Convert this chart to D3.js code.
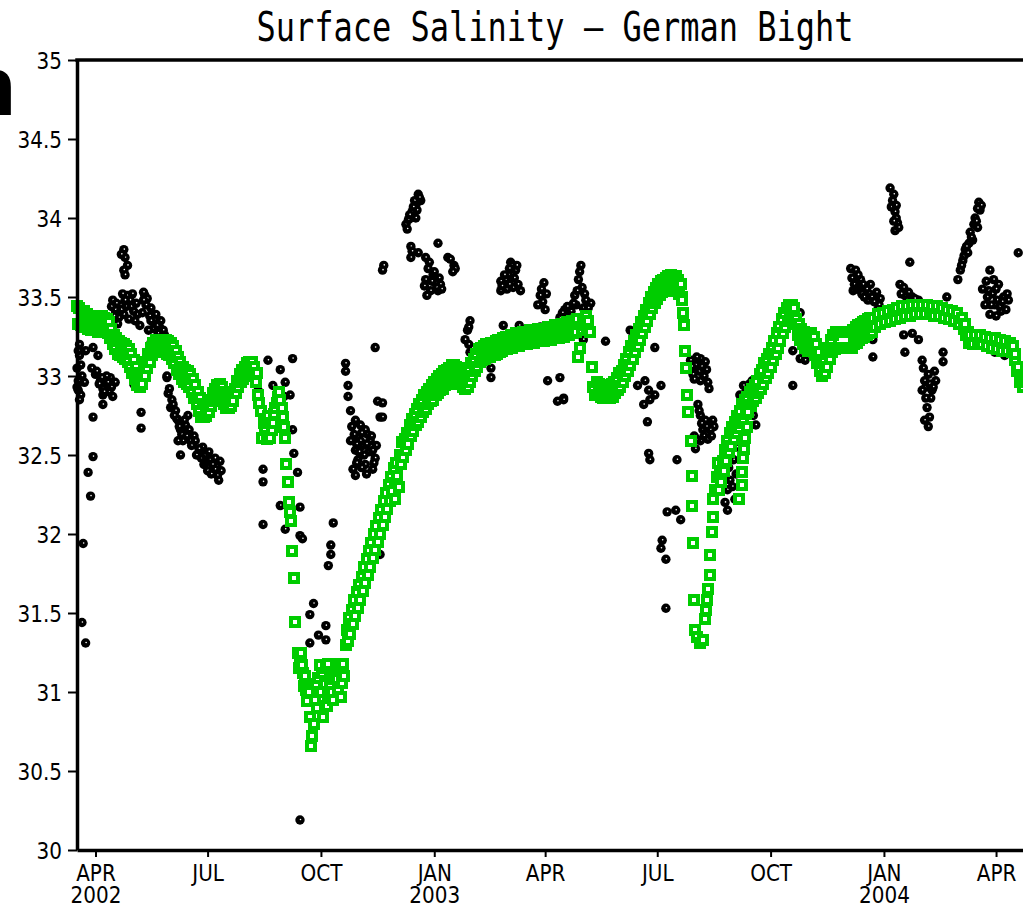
<!DOCTYPE html>
<html>
<head>
<meta charset="utf-8">
<script src="https://cdn.jsdelivr.net/npm/d3@7"></script>
<style>
  html, body { margin: 0; padding: 0; background: #fff; overflow: hidden; }
  svg { display: block; }
</style>
</head>
<body>
<svg id="chart" width="1023" height="908"></svg>
<script>
// ---- data ---------------------------------------------------------------
const chartTitle = "Surface Salinity \u2014 German Bight";
const startDate = new Date(2002, 2, 17);
const endDate = new Date(2004, 4, 1);
const baseDate = new Date(2002, 3, 1);          // day 0 of the series below
const yTicks = [30, 30.5, 31, 31.5, 32, 32.5, 33, 33.5, 34, 34.5, 35];
const monthNames = ["JAN", "FEB", "MAR", "APR", "MAY", "JUN", "JUL", "AUG", "SEP", "OCT", "NOV", "DEC"];

// model surface salinity: [days since 1 Apr 2002, psu]
const modelSalinity = [
  // spring / early summer 2002
  [-15,33.44],[-14,33.33],[-13,33.43],[-12,33.32],[-11,33.40],[-10,33.31],[-9,33.41],[-8,33.32],[-7,33.39],[-6,33.30],
  [-5,33.38],[-4,33.29],[-3,33.38],[-2,33.29],[-1,33.37],[0,33.29],[1,33.37],[2,33.28],[3,33.37],[4,33.29],
  [5,33.38],[6,33.28],[7,33.37],[8,33.29],[9,33.36],[10,33.27],[11,33.34],[12,33.24],[13,33.30],[14,33.20],
  [15,33.26],[16,33.17],[17,33.24],[18,33.14],[19,33.22],[20,33.13],[21,33.21],[22,33.12],[23,33.20],[24,33.11],
  [25,33.19],[26,33.09],[27,33.17],[28,33.06],[29,33.14],[30,33.02],[31,33.10],[32,32.98],[33,33.06],[34,32.94],
  [35,33.02],[36,32.93],[37,33.01],[38,32.95],[39,33.04],[40,33.00],[41,33.09],[42,33.05],[43,33.14],[44,33.09],
  [45,33.18],[46,33.13],[47,33.21],[48,33.15],[49,33.23],[50,33.15],[51,33.23],[52,33.15],[53,33.23],[54,33.15],
  [55,33.23],[56,33.15],[57,33.23],[58,33.14],[59,33.22],[60,33.13],[61,33.21],[62,33.11],[63,33.19],[64,33.08],
  [65,33.16],[66,33.04],[67,33.12],[68,33.01],[69,33.09],[70,32.98],[71,33.06],[72,32.96],[73,33.04],[74,32.95],
  [75,33.03],[76,32.93],[77,33.01],[78,32.90],[79,32.98],[80,32.86],[81,32.94],[82,32.82],[83,32.90],[84,32.78],
  [85,32.86],[86,32.74],[87,32.82],[88,32.74],[89,32.82],[90,32.75],[91,32.83],[92,32.77],[93,32.85],[94,32.81],
  [95,32.89],[96,32.84],[97,32.92],[98,32.86],[99,32.94],[100,32.87],[101,32.95],[102,32.85],[103,32.93],[104,32.82],
  [105,32.90],[106,32.80],[107,32.88],[108,32.80],[109,32.88],[110,32.81],[111,32.89],[112,32.84],[113,32.92],[114,32.89],
  [115,32.97],[116,32.93],[117,33.01],[118,32.96],[119,33.04],[120,32.98],[121,33.06],[122,33.00],[123,33.08],[124,33.01],
  [125,33.09],[126,33.01],[127,33.09],[128,33.00],[129,33.06],
  // late-summer freshening and autumn minimum
  [130,32.96],[131,33.02],[132,32.88],[133,32.83],[134,32.78],[135.5,32.61],[136.5,32.70],[138,32.67],[139,32.60],[140,32.75],
  [141,32.70],[142,32.61],[143,32.66],[144,32.70],[145,32.76],[146,32.80],[147,32.83],[148,32.87],[149,32.90],[150,32.85],
  [151,32.80],[152,32.74],[153,32.68],[154,32.61],[155,32.44],[156,32.33],[157,32.20],[158,32.14],[158.5,32.08],[159.5,31.89],
  [161,31.72],[162,31.44],[164,31.25],[165,31.15],[166,31.20],[167,31.25],[168,31.17],[168.8,31.12],[169.5,31.04],[170,31.10],
  [171,31.01],[172,30.94],[173,31.00],[174.5,30.84],[175,30.66],[176,30.72],[177,30.80],[178.5,30.95],[179,31.05],[180,30.90],
  [181,31.09],[182.6,31.17],[183,31.00],[184,31.12],[185,30.84],[186,31.05],[187,31.15],[188,30.91],[188.5,31.18],[189,30.98],
  [190.7,31.03],[191,31.12],[192,31.00],[193,30.95],[194,31.10],[195,31.18],[196.4,31.08],[197,31.02],[198,31.15],[199,30.97],
  [200.5,31.06],[201,31.18],[202,31.10],[203,31.30],[204.5,31.39],
  // winter recovery
  [205,31.32],[206,31.47],[207,31.37],[208,31.52],[209,31.43],[210,31.58],[211,31.48],[212,31.63],[213,31.53],[214,31.68],
  [215,31.58],[216,31.73],[217,31.64],[218,31.79],[219,31.69],[220,31.84],[221,31.74],[222,31.89],[223,31.79],[224,31.94],
  [225,31.85],[226,32.00],[227,31.90],[228,32.05],[229,31.95],[230,32.10],[231,32.00],[232,32.15],[233,32.06],[234,32.21],
  [235,32.11],[236,32.26],[237,32.16],[238,32.31],[239,32.21],[240,32.36],[241,32.27],[242,32.42],[243,32.32],[243.5,32.22],
  [244,32.45],[245,32.37],[246,32.30],[247,32.50],[248,32.44],[249,32.58],[250,32.49],
  [251,32.60],[252,32.53],[253,32.64],[254,32.57],[255,32.69],[256,32.62],[257,32.73],[258,32.65],[259,32.76],[260,32.69],
  [261,32.79],[262,32.71],[263,32.82],[264,32.74],[265,32.85],[266,32.77],[267,32.88],[268,32.79],[269,32.90],[270,32.82],
  [271,32.92],[272,32.84],[273,32.94],[274,32.85],[275,32.96],[276,32.88],[277,32.98],[278,32.89],[279,33.00],[280,32.91],
  [281,33.01],[282,32.92],[283,33.03],[284,32.94],[285,33.04],[286,32.95],[287,33.05],[288,32.96],[289,33.07],[290,32.98],
  [291,33.07],[292,32.98],[293,33.06],[294,32.97],[295,33.05],[296,32.95],[297,33.03],[298,32.93],[299,33.02],[300,32.92],
  [301,33.02],[302,32.93],[303,33.04],[304,32.96],[305,33.08],[306,33.00],[307,33.11],[308,33.03],[309,33.14],[310,33.06],
  [311,33.17],[312,33.09],[313,33.18],[314,33.10],[315,33.19],[316,33.11],[317,33.20],[318,33.12],[319,33.20],[320,33.12],
  [321,33.21],[322,33.13],[323,33.21],[324,33.13],[325,33.22],[326,33.14],[327,33.23],[328,33.15],[329,33.23],[330,33.16],
  // spring 2003 plateau
  [331,33.24],[332,33.17],[333,33.25],[334,33.17],[335,33.25],[336,33.18],[337,33.26],[338,33.18],[339,33.26],[340,33.19],
  [341,33.27],[342,33.19],[343,33.27],[344,33.19],[345,33.27],[346,33.20],[347,33.28],[348,33.20],[349,33.28],[350,33.20],
  [351,33.28],[352,33.21],[353,33.29],[354,33.21],[355,33.29],[356,33.21],[357,33.29],[358,33.22],[359,33.30],[360,33.22],
  [361,33.30],[362,33.22],[363,33.30],[364,33.22],[365,33.30],[366,33.23],[367,33.31],[368,33.23],[369,33.31],[370,33.23],
  [371,33.31],[372,33.24],[373,33.32],[374,33.24],[375,33.32],[376,33.24],[377,33.32],[378,33.25],[379,33.33],[380,33.25],
  [381,33.33],[382,33.26],[383,33.34],[384,33.26],[385,33.34],[386,33.27],[387,33.35],[388,33.27],[389,33.35],[390,33.28],
  [391,33.36],[392,33.12],[393.6,33.18],[395,33.29],[396,33.36],[397,33.32],[398,33.38],[399,33.30],[400,33.35],[401.7,33.28],
  [403,33.06],[404.2,32.93],[405.8,32.88],
  // summer 2003
  [407,32.96],[408,32.88],[409,32.95],[410,32.87],[411,32.94],[412,32.86],[413,32.94],[414,32.86],[415,32.94],[416,32.86],
  [417,32.94],[418,32.86],[419,32.95],[420,32.87],[421,32.96],[422,32.89],[423,32.99],[424,32.91],[425,33.02],
  [426,32.93],[427,33.03],[428,32.96],[429,33.07],[430,33.00],[431,33.11],[432,33.03],[433,33.15],[434,33.07],[435,33.19],
  [436,33.11],[437,33.22],[438,33.15],[439,33.26],[440,33.19],[441,33.30],[442,33.23],[443,33.34],[444,33.27],[445,33.38],
  [446,33.31],[447,33.42],[448,33.35],[449,33.46],[450,33.39],[451,33.50],[452,33.43],[453,33.53],[454,33.46],[455,33.56],
  [456,33.49],[457,33.58],[458,33.51],[459,33.60],[460,33.53],[461,33.61],[462,33.54],[463,33.62],[464,33.55],[465,33.63],
  [466,33.56],[467,33.64],[468,33.56],[469,33.63],[470,33.55],[471,33.63],[472,33.54],[473,33.61],[474,33.52],[475,33.58],
  [476,33.50],[476.4,33.48],[477.2,33.40],[477.5,33.32],[478.8,33.16],[479.3,33.05],[480.5,32.88],[481,32.77],[483,32.59],[483.8,32.37],
  [484.6,32.18],[485.2,31.94],[485.5,31.58],[487,31.39],[488.6,31.35],[491,31.31],[493.4,31.33],[495,31.46],[495.5,31.52],[496.7,31.58],
  [497,31.65],[499,31.74],[499.1,31.87],[500.8,32.01],[501,32.11],[501.5,32.22],[503,32.28],[504.8,32.36],[505,32.45],
  // autumn 2003 recovery
  [506,32.28],[507,32.38],[508,32.33],[509,32.46],[510,32.40],[511,32.53],[512,32.46],[513,32.59],[514,32.52],[515,32.64],
  [516,32.56],[517,32.68],[518,32.60],[519,32.71],[520,32.64],[521,32.75],[522,32.67],[523,32.78],[524,32.70],[525,32.82],
  [526,32.73],[527,32.85],[528,32.76],[529,32.87],[530,32.79],[531,32.90],[532,32.81],[533,32.92],[534,32.84],[535,32.94],
  [536,32.86],[537,32.97],[538,32.89],[539,33.01],[540,32.92],[541,33.04],[542,32.95],[543,33.08],[544,32.99],[545,33.11],
  [546,33.02],[547,33.14],[548,33.06],[549,33.18],[550,33.10],[551,33.22],[552,33.14],[553,33.27],[554,33.18],[555,33.31],
  [556,33.22],[557,33.36],[558,33.27],[559,33.40],[560,33.31],[561,33.43],[562,33.35],[563,33.45],[564,33.37],[565,33.45],
  [566,33.37],[567,33.43],[568,33.33],
  [522.7,32.22],[525,32.31],[525.1,32.39],[526,32.48],[526.2,32.54],[527.5,32.61],[529.2,32.68],[530,32.77],
  // winter 2003/04
  [569,33.36],[570,33.26],[571,33.33],[572,33.23],[573,33.30],[574,33.20],[575,33.28],[576,33.18],[577,33.26],[578,33.16],
  [579,33.26],[580,33.17],[581,33.27],[582,33.17],[583,33.25],[584,33.13],[585,33.20],[586,33.08],[587,33.15],[588,33.03],
  [589,33.10],[590,33.00],[591,33.10],[592,33.02],[593,33.14],[594,33.06],[595,33.18],[596,33.11],[597,33.23],[598,33.15],
  [599,33.26],[600,33.17],[601,33.28],[602,33.18],[603,33.28],[604,33.18],[605,33.28],[606,33.18],[607,33.28],[608,33.18],
  [609,33.28],[610,33.18],[611,33.28],[612,33.18],[613,33.28],[614,33.18],[615,33.29],[616,33.20],[617,33.31],[618,33.21],
  [619,33.32],[620,33.23],[621,33.33],[622,33.24],[623,33.34],[624,33.25],[625,33.35],[626,33.26],[627,33.36],[628,33.27],
  [629,33.37],[630,33.28],
  [631,33.37],[633,33.31],[635,33.39],[637,33.33],[639,33.40],[641,33.34],[643,33.41],[645,33.35],[647,33.42],[649,33.36],
  [651,33.43],[653,33.37],[655,33.44],[657,33.38],[659,33.44],[661,33.38],[663,33.45],[665,33.39],[667,33.45],[669,33.39],
  [671,33.45],[673,33.39],[675,33.45],[677,33.39],[679,33.44],[681,33.38],[683,33.44],[685,33.38],[687,33.43],[689,33.37],
  [691,33.42],[693,33.36],[695,33.41],[697,33.35],[699,33.40],[701,33.33],[703,33.37],[705,33.30],[706,33.33],[707,33.26],
  [708,33.28],[709,33.21],[710,33.26],[712,33.20],[714,33.26],[716,33.20],[718,33.26],[720,33.20],[722,33.25],[724,33.19],
  [726,33.24],[728,33.18],[730,33.24],[732,33.17],[734,33.23],[736,33.16],[738,33.22],[740,33.16],[742,33.21],[744,33.15],
  [745,33.19],[746,33.10],[746.7,33.14],[748,33.03],[749.1,33.06],[750.7,32.96],[752,32.99],[753.2,32.93],[755,32.96]
];

// observed surface salinity: [days since 1 Apr 2002, psu]
const observedSalinity = [
  // spring 2002
  [-13,33.20],[-12,33.07],[-14,32.97],[-12,32.88],[-13,32.85],[-13,33.13],[-14,32.91],[-15,33.05],[-15,32.93],[-14,33.16],
  [-11,33.00],[-9,32.96],
  [-10,31.94],[-11,31.44],[-8,31.31],[-2,32.49],[-6,32.39],[-4,32.24],
  [-2,33.18],[2,33.13],[-8,33.16],[0,33.01],[4,32.97],[8,32.94],[11,32.90],[6,32.88],[12,32.99],[6,32.92],[9,33.00],
  [-3,33.05],[1,33.03],[3,32.95],[5,32.99],[7,32.90],[10,32.96],[13,32.93],[14,32.87],[16,32.96],
  [6,32.82],[-2,32.74],
  [23,33.80],[24,33.75],[26,33.70],[23,33.67],[24,33.64],[21,33.77],
  [26,33.51],[20,33.45],[16,33.42],[28,33.48],[31,33.41],[19,33.37],[23,33.39],[24,33.48],[14,33.48],[32,33.35],
  [13,33.44],[15,33.38],[17,33.46],[18,33.33],[21,33.42],[22,33.52],[25,33.44],[27,33.36],[29,33.44],[30,33.52],
  [33,33.46],[34,33.39],[36,33.32],[38,33.40],[40,33.51],[44,33.38],[47,33.30],[48,33.36],[51,33.27],[52,33.31],
  [56,33.26],[57,33.22],
  [39,33.53],[42,33.49],[41,33.45],[45,33.43],[39,33.48],
  [45,33.35],[50,33.32],[55,33.29],[43,33.29],[54,33.25],[49,33.39],[53,33.35],[45,33.21],
  [37,32.77],[37,32.67],[31,32.95],[58,32.99],[59,32.89],[58,33.00],[60,32.92],
  // early summer 2002
  [62,32.85],[65,32.78],[67,32.72],[69,32.66],[73,32.69],[71,32.59],[77,32.59],[75,32.75],[61,32.80],[66,32.73],
  [67,32.59],[69,32.50],
  [63,32.82],[64,32.75],[68,32.68],[70,32.63],[72,32.72],[74,32.62],[76,32.66],[78,32.56],[80,32.62],[82,32.50],
  [86,32.48],[87,32.55],[88,32.44],[90,32.46],[91,32.40],[94,32.38],[96,32.45],[98,32.43],[99,32.37],[102,32.40],
  [85,32.53],[89,32.50],[93,32.47],[97,32.48],[97,32.41],[100,32.34],[95,32.44],[101,32.46],[81,32.59],[84,32.54],[92,32.52],
  // late summer / autumn 2002
  [140,33.10],[150,33.04],[144,32.94],[154,32.96],[158,32.88],[153,32.87],[160,33.11],[132,32.91],
  [160,32.66],[161,32.51],[164,32.39],[136,32.41],[136,32.33],
  [150,32.18],[158,32.16],[166,32.17],[154,32.03],[166,31.99],[168,31.97],[136,32.06],
  [177,31.56],[174,31.49],[187,31.42],[181,31.36],[174,31.31],[187,31.33],[166,30.19],
  [193,32.07],[191,31.93],[191,31.87],[189,31.80],
  [203,33.08],[203,33.03],[205,32.94],[205,32.87],[207,32.78],[227,33.18],[229,32.84],[231,32.74],
  [211,32.72],[215,32.69],[219,32.66],[213,32.61],[223,32.59],[217,32.56],[211,32.53],[222,32.52],[227,32.48],
  [213,32.47],[219,32.44],[225,32.41],[209,32.41],[211,32.37],[215,32.59],[221,32.63],[207,32.59],[225,32.53],
  [208,32.68],[210,32.63],[212,32.57],[214,32.52],[216,32.64],[218,32.50],[220,32.57],[224,32.62],[226,32.45],[228,32.56],
  [212,32.45],[216,32.42],[220,32.38],
  [231,31.87],[234,33.70],[233,33.67],
  // winter 2002/03
  [262,34.15],[260,34.08],[257,34.04],[256,34.00],[252,33.96],[254,33.99],[264,34.11],[261,34.05],[259,34.11],
  [253,33.93],[255,34.02],[258,34.07],[263,34.13],[260,34.00],
  [256,33.82],[256,33.75],[268,33.75],[278,33.84],[286,33.75],[291,33.70],[292,33.68],[257,33.79],[262,33.78],
  [270,33.68],[274,33.64],[276,33.59],[272,33.54],[269,33.51],[280,33.58],[278,33.54],[268,33.61],
  [271,33.72],[273,33.60],[275,33.66],[277,33.56],[279,33.62],[281,33.55],[267,33.57],[288,33.74],[290,33.66],
  [304,33.35],[302,33.29],[300,33.23],[303,33.20],[304,33.15],[303,33.31],
  [233,32.83],[233,32.74],[321,33.05],[321,32.99],
  // spring 2003
  [331,33.32],[344,33.32],[361,33.31],
  [337,33.72],[341,33.67],[333,33.61],[329,33.54],[339,33.56],[345,33.54],[335,33.64],[338,33.70],[329,33.60],
  [330,33.57],[332,33.64],[334,33.55],[336,33.68],[340,33.62],[342,33.70],[343,33.58],[336,33.58],
  [364,33.59],[361,33.51],[359,33.45],[365,33.42],[362,33.55],[363,33.47],[366,33.52],
  [394,33.70],[392,33.61],[395,33.56],[390,33.45],[386,33.41],[398,33.48],[402,33.46],[381,33.42],[388,33.46],[394,33.37],
  [396,33.23],[377,33.37],
  [379,33.40],[383,33.44],[385,33.38],[389,33.51],[391,33.54],[393,33.66],[396,33.43],[397,33.52],[400,33.43],[399,33.39],
  [367,32.97],[377,32.99],[380,32.86],[375,32.84],[380,32.85],
  // summer 2003
  [414,33.22],[434,33.29],[454,33.18],
  [440,32.94],[449,32.91],[454,32.88],[446,32.97],[459,32.94],[450,32.85],
  [445,32.82],[448,32.71],[449,32.51],[450,32.47],[472,32.47],
  [483,33.10],[491,33.11],[495,33.09],[485,33.01],[491,32.97],[497,32.96],[487,33.07],
  [484,33.06],[486,32.98],[488,33.12],[490,33.03],[492,33.06],[494,33.00],[496,33.04],[498,32.92],
  [489,32.82],[491,32.75],[495,32.72],[499,32.69],[493,32.66],[502,32.68],[491,32.59],[487,32.54],[499,32.66],
  [490,32.78],[492,32.70],[494,32.62],[496,32.68],[497,32.60],[500,32.62],[501,32.72],[488,32.60],[486,32.62],
  [464,32.14],[471,32.15],[475,32.09],[460,31.96],[459,31.91],[463,31.84],[463,31.53],
  // autumn 2003
  [513,32.28],[513,32.15],[513,32.49],[515,32.56],[518,32.47],[515,32.34],[519,32.22],
  [510,32.40],[511,32.20],[514,32.42],[517,32.30],[520,32.38],[521,32.55],[524,32.60],[528,32.90],[531,32.95],[534,32.75],
  [526,32.94],[523,32.88],[536,32.69],[537,32.90],[533,32.97],
  [572,33.40],[566,33.16],[572,33.11],[576,33.10],[566,32.94],
  // winter 2003/04
  [613,33.68],[617,33.61],[615,33.54],
  [645,34.19],[647,34.11],[649,34.04],[651,33.97],[649,33.92],[648,34.15],[661,33.72],
  [646,34.07],[650,34.00],[652,33.94],[650,34.08],[648,33.98],
  [617,33.67],[621,33.61],[625,33.54],[629,33.58],[633,33.51],[637,33.49],[619,33.64],[627,33.48],
  [614,33.62],[616,33.58],[618,33.55],[620,33.57],[622,33.52],[623,33.58],[624,33.50],[626,33.55],[628,33.52],[630,33.50],
  [632,33.47],[634,33.53],[636,33.45],
  [653,33.58],[657,33.51],[663,33.50],[668,33.48],[691,33.50],[635,33.42],
  [654,33.52],[656,33.56],[659,33.48],[660,33.53],[662,33.47],[665,33.49],[666,33.45],
  [631,33.23],[631,33.12],[656,33.26],[663,33.27],[668,33.23],[657,33.15],[671,33.10],[688,33.15],[688,33.09],
  [676,33.01],[674,32.93],[682,32.97],[679,32.91],[671,32.91],[675,32.80],[676,32.68],
  [672,33.05],[673,32.97],[677,32.95],[678,32.86],[680,32.93],[681,33.03],[674,32.86],[677,32.74],[673,32.72],
  // spring 2004
  [717,34.10],[718,34.05],[714,34.00],[713,33.96],[710,33.91],[709,33.84],[706,33.80],[704,33.73],[702,33.67],[700,33.61],
  [716,33.94],[712,33.86],[749,33.78],
  [703,33.70],[705,33.76],[707,33.82],[708,33.78],[711,33.88],[715,33.98],[719,34.08],[716,34.06],
  [726,33.67],[729,33.61],[725,33.54],[733,33.58],[737,33.50],[741,33.48],[730,33.45],[722,33.45],[726,33.39],[735,33.41],
  [720,33.55],[723,33.60],[724,33.50],[728,33.52],[731,33.55],[732,33.48],[734,33.44],[736,33.47],[739,33.42],[740,33.52],
  [727,33.45],[731,33.38],
  [730,33.15],[738,33.13],[736,33.17],[742,33.15]
];

// ---- layout -------------------------------------------------------------
const plot = { left: 77, top: 60, bottom: 850, right: 1033 };
const labelFont = "'DejaVu Sans', sans-serif";
const titleFont = "'DejaVu Sans Mono', monospace";
const modelGreen = "#00cc00";

const svg = d3.select("#chart");
svg.append("rect").attr("width", 1023).attr("height", 908).attr("fill", "#fff");

const dayToDate = d => new Date(baseDate.getTime() + d * 86400000);

const x = d3.scaleTime().domain([startDate, endDate]).range([plot.left, plot.right]);
const y = d3.scaleLinear().domain([30, 35]).range([plot.bottom, plot.top]);

// stray bold glyph at the left margin
svg.append("text")
  .attr("x", 16).attr("y", 115)
  .attr("text-anchor", "end")
  .style("font-family", "'Liberation Sans', Arial, sans-serif")
  .style("font-weight", "bold")
  .style("font-size", "84px")
  .text("n");

// title
svg.append("text")
  .attr("transform", "translate(555,41) scale(1,1.3)")
  .attr("text-anchor", "middle")
  .style("font-family", titleFont)
  .style("font-size", "32px")
  .attr("fill", "#000")
  .text(chartTitle);

// ---- marks --------------------------------------------------------------
svg.append("clipPath").attr("id", "plot-clip")
  .append("rect")
  .attr("x", plot.left - 8).attr("y", plot.top)
  .attr("width", plot.right - plot.left + 8).attr("height", plot.bottom - plot.top);

const marks = svg.append("g").attr("clip-path", "url(#plot-clip)");

const obs = marks.append("g").selectAll("g")
  .data(observedSalinity)
  .join("g")
  .attr("transform", d => `translate(${x(dayToDate(d[0]))},${y(d[1])})`);
obs.append("circle").attr("r", 4.7).attr("fill", "#000");
obs.append("circle").attr("r", 0.8).attr("cx", 0.5).attr("cy", -0.5).attr("fill", "#fff");

marks.append("g").selectAll("rect")
  .data(modelSalinity)
  .join("rect")
  .attr("x", d => x(dayToDate(d[0])) - 4)
  .attr("y", d => y(d[1]) - 4)
  .attr("width", 8).attr("height", 8)
  .attr("fill", "#fff")
  .attr("stroke", modelGreen)
  .attr("stroke-width", 4)
  .attr("shape-rendering", "crispEdges");

// ---- axes ---------------------------------------------------------------
const yAxis = d3.axisLeft(y)
  .tickValues(yTicks)
  .tickSize(9)
  .tickSizeOuter(0)
  .tickPadding(6)
  .tickFormat(v => Number.isInteger(v) ? String(v) : v.toFixed(1));

const gy = svg.append("g").attr("transform", `translate(${plot.left},0)`).call(yAxis);
gy.select(".domain").attr("stroke", "#000").attr("stroke-width", 3.5);
gy.selectAll(".tick line").attr("stroke", "#000").attr("stroke-width", 2);
gy.selectAll(".tick text")
  .attr("dy", "0.36em")
  .attr("transform", "scale(1,1.15)")
  .attr("fill", "#000")
  .style("font-family", labelFont)
  .style("font-size", "20px");

const xTicks = d3.timeMonth.every(3).range(new Date(2002, 3, 1), endDate);
const xAxis = d3.axisBottom(x)
  .tickValues(xTicks)
  .tickSize(7)
  .tickSizeOuter(0)
  .tickFormat("");

const gx = svg.append("g").attr("transform", `translate(0,${plot.bottom})`).call(xAxis);
gx.select(".domain").attr("stroke", "#000").attr("stroke-width", 3.5);
gx.selectAll(".tick line").attr("stroke", "#000").attr("stroke-width", 2);
gx.selectAll(".tick text").remove();
gx.selectAll(".tick").each(function (d, i) {
  const tick = d3.select(this);
  tick.append("text")
    .attr("transform", "translate(0,31) scale(1,1.15)")
    .attr("text-anchor", "middle")
    .attr("fill", "#000")
    .style("font-family", labelFont)
    .style("font-size", "20px")
    .text(monthNames[d.getMonth()]);
  if (i === 0 || d.getMonth() === 0) {
    tick.append("text")
      .attr("transform", "translate(0,53) scale(1,1.15)")
      .attr("text-anchor", "middle")
      .attr("fill", "#000")
      .style("font-family", labelFont)
      .style("font-size", "20px")
      .text(d.getFullYear());
  }
});

// top frame line
svg.append("line")
  .attr("x1", plot.left).attr("x2", plot.right)
  .attr("y1", plot.top).attr("y2", plot.top)
  .attr("stroke", "#000").attr("stroke-width", 3.5)
  .attr("stroke-linecap", "square");
</script>
</body>
</html>
